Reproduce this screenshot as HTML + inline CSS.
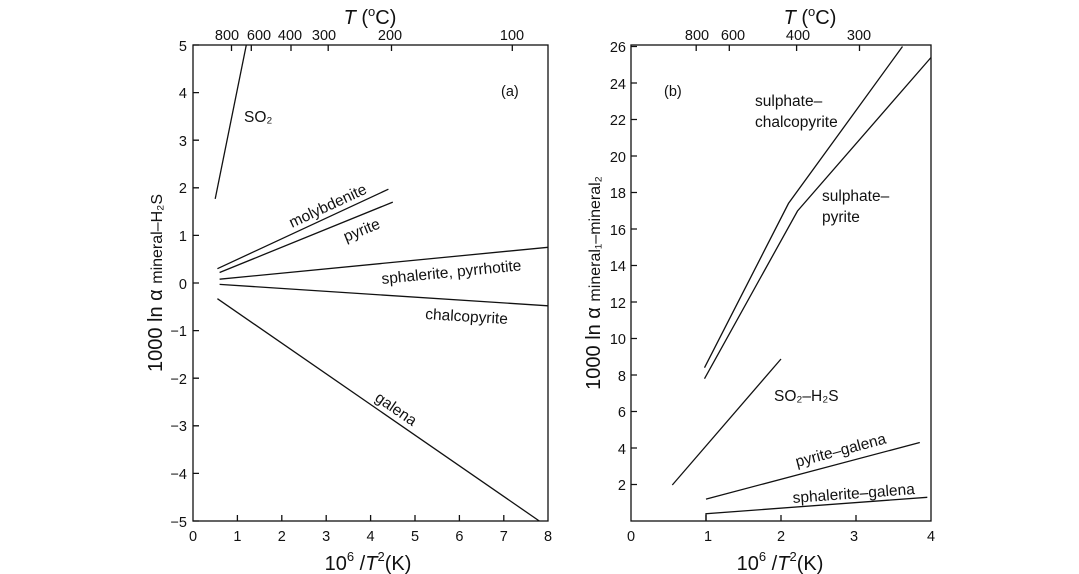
<!DOCTYPE html>
<html><head><meta charset="utf-8"><style>
html,body{margin:0;padding:0;background:#fff}
svg{display:block}
text{font-family:"Liberation Sans",Arial,sans-serif;fill:#111}
</style></head><body>
<svg width="1079" height="574" viewBox="0 0 1079 574" xmlns="http://www.w3.org/2000/svg">
<g stroke="#111" stroke-width="1.3" fill="none">
<rect x="193" y="45" width="355" height="476"/>
<path d="M193 45h6M193 92.6h6M193 140.2h6M193 187.8h6M193 235.4h6M193 283h6M193 330.6h6M193 378.2h6M193 425.8h6M193 473.4h6M193 521h6"/>
<path d="M237.4 521v-6M281.8 521v-6M326.2 521v-6M370.6 521v-6M415 521v-6M459.4 521v-6M503.8 521v-6"/>
<path d="M231.5 45v6M251.3 45v6M291 45v6M328.2 45v6M391.5 45v6M512.3 45v6"/>
<path d="M215.2 198.9L246.3 45"/>
<path d="M217.4 268.7L388.4 189.2"/>
<path d="M219.6 272.5L392.8 202.1"/>
<path d="M219.6 279.2L548 247.3"/>
<path d="M219.6 284.4L548 305.8"/>
<path d="M217.4 298.7L539.3 521"/>
<rect x="631" y="45" width="300" height="476"/>
<path d="M631 484.5h6M631 448h6M631 411.5h6M631 375h6M631 338.5h6M631 302h6M631 265.5h6M631 229h6M631 192.5h6M631 156h6M631 119.5h6M631 83h6M631 46.5h6"/>
<path d="M706 521v-6M781 521v-6M856 521v-6"/>
<path d="M696.2 45v6M729.3 45v6M796.6 45v6M859.5 45v6"/>
<path d="M704.5 367.7L788.5 203.4L902.5 46.5"/>
<path d="M704.5 378.7L797.5 211L931 57.5"/>
<path d="M672.3 485L781 359"/>
<path d="M706 499.1L919.8 442.5"/>
<path d="M706 521V513.7L927.3 497.3"/>
</g>
<g font-size="14.5">
<g text-anchor="end">
<text x="187" y="51">5</text><text x="187" y="98">4</text><text x="187" y="146">3</text><text x="187" y="193">2</text><text x="187" y="241">1</text><text x="187" y="289">0</text><text x="187" y="336">−1</text><text x="187" y="384">−2</text><text x="187" y="431">−3</text><text x="187" y="479">−4</text><text x="187" y="527">−5</text>
</g>
<g text-anchor="middle">
<text x="193" y="541">0</text><text x="237.4" y="541">1</text><text x="281.8" y="541">2</text><text x="326.2" y="541">3</text><text x="370.6" y="541">4</text><text x="415" y="541">5</text><text x="459.4" y="541">6</text><text x="503.8" y="541">7</text><text x="548" y="541">8</text>
<text x="227" y="40">800</text><text x="259" y="40">600</text><text x="290" y="40">400</text><text x="324" y="40">300</text><text x="390" y="40">200</text><text x="512" y="40">100</text>
</g>
<text x="501" y="96">(a)</text>
<text x="244" y="122" font-size="15.5">SO₂</text>
<text x="0" y="0" transform="translate(292 228) rotate(-24.9)" font-size="15.5">molybdenite</text>
<text x="0" y="0" transform="translate(346 242) rotate(-22)" font-size="15.5">pyrite</text>
<text x="0" y="0" transform="translate(382 284) rotate(-5.6)" font-size="15.5">sphalerite, pyrrhotite</text>
<text x="425" y="319" font-size="15.5" transform="rotate(3.5 425 319)">chalcopyrite</text>
<text x="0" y="0" transform="translate(374 400) rotate(34.6)" font-size="15.5">galena</text>
<g text-anchor="end">
<text x="626" y="52">26</text><text x="626" y="89">24</text><text x="626" y="125">22</text><text x="626" y="162">20</text><text x="626" y="198">18</text><text x="626" y="235">16</text><text x="626" y="271">14</text><text x="626" y="308">12</text><text x="626" y="344">10</text><text x="626" y="381">8</text><text x="626" y="417">6</text><text x="626" y="454">4</text><text x="626" y="490">2</text>
</g>
<g text-anchor="middle">
<text x="631" y="541">0</text><text x="708" y="541">1</text><text x="781" y="541">2</text><text x="854" y="541">3</text><text x="931" y="541">4</text>
<text x="697" y="40">800</text><text x="733" y="40">600</text><text x="798" y="40">400</text><text x="859" y="40">300</text>
</g>
<text x="664" y="96">(b)</text>
<g font-size="15.5">
<text x="755" y="106">sulphate–</text><text x="755" y="127">chalcopyrite</text>
<text x="822" y="201">sulphate–</text><text x="822" y="222">pyrite</text>
<text x="774" y="401">SO₂–H₂S</text>
<text x="0" y="0" transform="translate(797 467) rotate(-14.8)">pyrite–galena</text>
<text x="0" y="0" transform="translate(793 503) rotate(-4.2)">sphalerite–galena</text>
</g>
</g>
<g font-size="20" text-anchor="middle">
<text x="370" y="24"><tspan font-style="italic">T</tspan> (<tspan font-size="13" dy="-8">o</tspan><tspan dy="8">C)</tspan></text>
<text x="810" y="24"><tspan font-style="italic">T</tspan> (<tspan font-size="13" dy="-8">o</tspan><tspan dy="8">C)</tspan></text>
<text x="368" y="570">10<tspan font-size="13" dy="-9">6</tspan><tspan dy="9"> /</tspan><tspan font-style="italic">T</tspan><tspan font-size="13" dy="-9">2</tspan><tspan dy="9">(K)</tspan></text>
<text x="780" y="570">10<tspan font-size="13" dy="-9">6</tspan><tspan dy="9"> /</tspan><tspan font-style="italic">T</tspan><tspan font-size="13" dy="-9">2</tspan><tspan dy="9">(K)</tspan></text>
<text x="0" y="0" transform="translate(162 283) rotate(-90)">1000 ln α <tspan font-size="16">mineral–H₂S</tspan></text>
<text x="0" y="0" transform="translate(600 283) rotate(-90)">1000 ln α <tspan font-size="16">mineral₁–mineral₂</tspan></text>
</g>
</svg>
</body></html>
